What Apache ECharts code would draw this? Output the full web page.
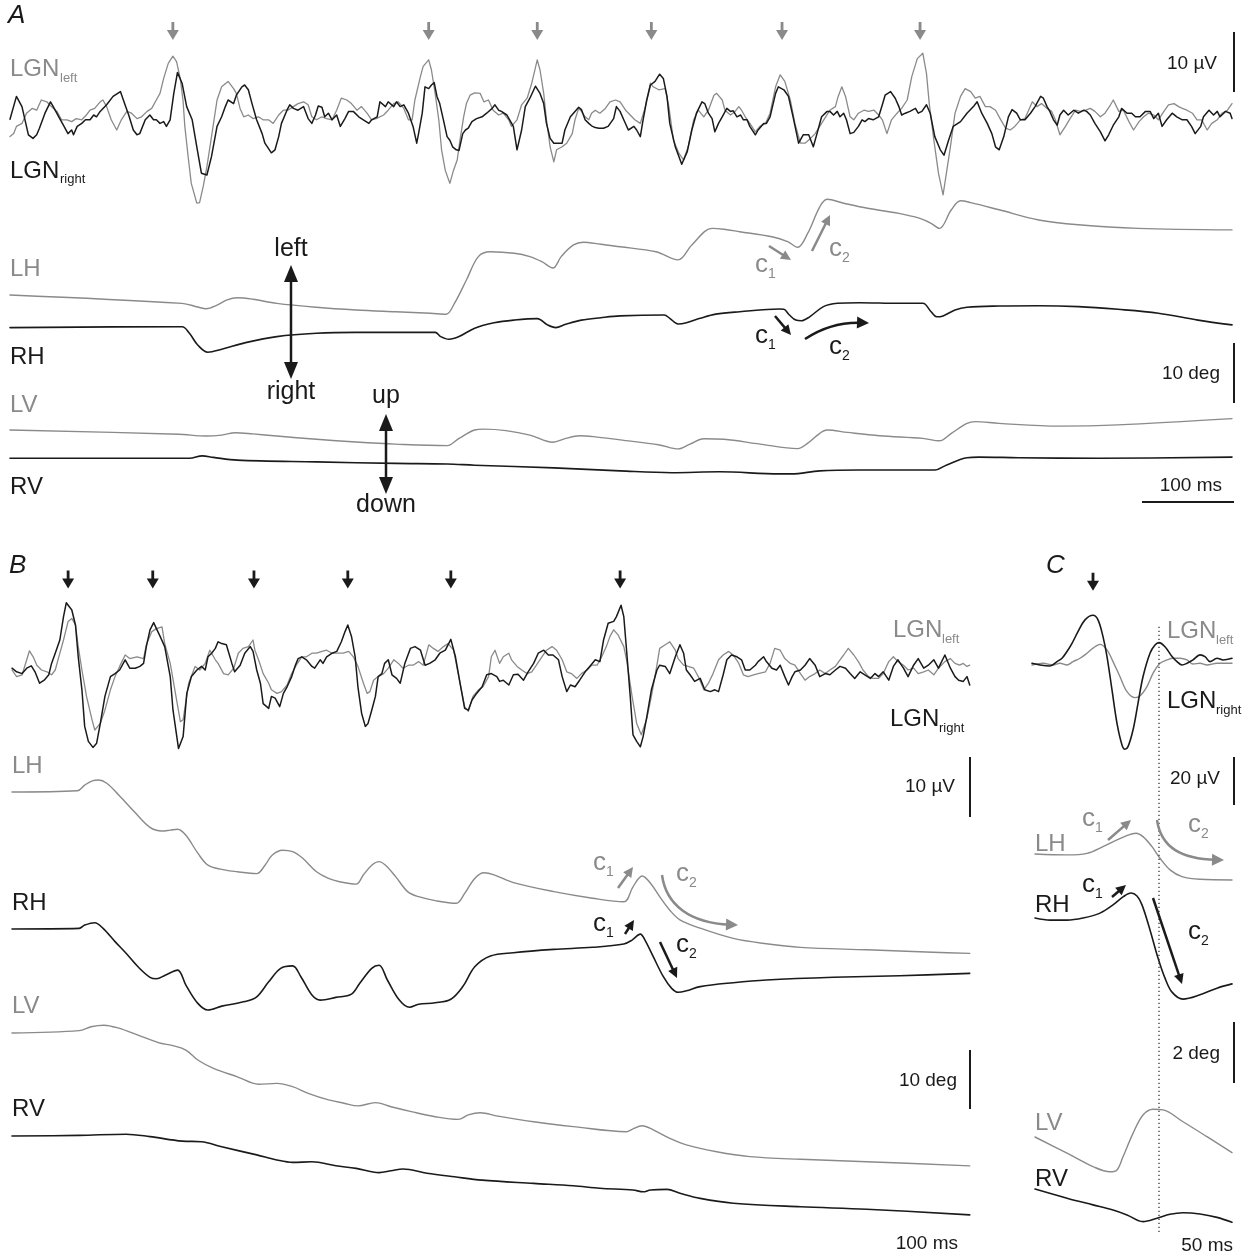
<!DOCTYPE html>
<html><head><meta charset="utf-8">
<script src="https://cdn.jsdelivr.net/npm/echarts@6/dist/echarts.min.js"></script>
<style>html,body{margin:0;padding:0;background:#fff}#c{width:1248px;height:1260px}</style>
</head><body><div id="c"></div>
<script>
// ===== DATA: [time (ms), value] pairs =====
// Panel A – LGN field potentials (µV)
const lgnA_right = [[0,-0.7],[7,3.1],[13,1.4],[20,-3.3],[25,-3.9],[29,-3.3],[32,-2.2],[34,-2.5],[38,0.3],[44,2.2],[47,1.4],[53,-0.3],[58,-1.7],[63,-3.1],[67,-2.5],[69,-3.3],[73,-1.9],[78,-1.4],[82,-0.8],[87,-0.8],[91,0],[94,-0.3],[98,0.6],[105,1.7],[112,3.1],[120,3.9],[125,1.7],[129,0],[134,-2.5],[138,-3.3],[141,-3.1],[147,-0.8],[152,0],[156,-0.8],[159,-0.8],[163,-1.4],[167,-1.1],[170,-1.9],[174,-0.8],[178,3.6],[182,7.1],[187,5.3],[192,1.4],[198,-0.8],[203,-5.3],[208,-9.7],[214,-10],[219,-6.9],[225,-1.9],[230,-0.3],[234,1.4],[237,2.5],[243,1.9],[246,3.3],[252,4.7],[255,5],[259,4.2],[263,1.9],[268,-0.8],[274,-3.1],[277,-4.7],[281,-5.6],[284,-6.3],[288,-5.8],[292,-3.6],[295,-1.4],[301,0.8],[304,1.7],[308,1.1],[313,0.8],[319,1.4],[324,-0.6],[328,-1.4],[332,0],[335,1.5],[339,1.3],[342,-0.3],[346,0.3],[350,-0.8],[355,0],[359,-1.9],[364,-0.6],[368,0.6],[373,0.6],[379,-0.3],[384,-0.8],[390,-1.4],[393,-0.8],[399,-0.3],[402,2.2],[408,1.4],[411,2.2],[417,1.4],[420,2.2],[424,1.4],[428,1.7],[433,0.3],[438,-1.9],[442,-4.7],[444,-3.1],[448,0.3],[451,4.7],[455,4.4],[458,5],[461,5.4],[464,3.1],[467,1.9],[471,-0.8],[475,-3.6],[478,-4.2],[481,-5.3],[485,-5.8],[488,-5.9],[492,-3.1],[495,-2.5],[498,-2.2],[502,-1.1],[507,-0.6],[513,-0.3],[518,0.3],[524,1.1],[527,1.7],[531,0.8],[534,0.6],[540,0],[543,-0.8],[547,-1.9],[551,-5.8],[556,-2.5],[560,1.4],[565,2.8],[571,4.8],[576,3.6],[580,1.9],[583,-1.4],[587,-3.9],[591,-4.7],[596,-4.7],[600,-4.7],[603,-2.5],[609,-0.3],[614,0.6],[618,1.3],[621,0.9],[625,-0.8],[629,-1.4],[632,-1.8],[636,-2.1],[640,-2.2],[645,-2.2],[650,-1.9],[656,-0.6],[659,1.4],[663,0.6],[667,-0.8],[672,-2.5],[678,-1.9],[681,-2.5],[685,-3.6],[688,-0.8],[692,2.5],[696,5],[701,5.6],[706,6.8],[710,6.1],[714,3.1],[717,-1.4],[723,-5.3],[730,-8.2],[736,-6.1],[741,-2.5],[746,0.3],[752,2.2],[755,1.9],[759,0.3],[763,-0.6],[766,-2.8],[770,-1.4],[774,-0.3],[779,1.1],[783,0.6],[786,0.7],[790,-0.3],[794,0],[797,-0.8],[801,-0.8],[804,-1.9],[810,-3.3],[813,-2.5],[819,-1.4],[822,-1.4],[826,-0.3],[832,3.6],[835,4.7],[841,4.2],[846,3.1],[851,-0.3],[857,-4.7],[862,-3.3],[868,-3.3],[873,-5.3],[877,-3.1],[882,-0.3],[888,0.6],[891,0.6],[895,0],[899,0.6],[902,-0.3],[906,0.3],[909,-0.8],[913,-3.1],[917,-2.9],[922,-1.9],[926,-0.8],[929,-1.1],[933,-0.6],[938,-0.8],[944,-0.3],[948,1.7],[951,3.3],[957,3.9],[962,2.8],[966,1.4],[969,0],[973,0.3],[978,0.6],[984,1.1],[987,0.3],[991,0.6],[996,1.7],[1000,0.3],[1005,-3.6],[1011,-5.8],[1015,-6.7],[1020,-4.2],[1025,-1.9],[1033,-1.1],[1040,0.3],[1047,1.4],[1051,2.2],[1056,0.3],[1062,-1.4],[1067,-3.1],[1071,-5.3],[1075,-5.8],[1080,-3.6],[1085,-0.3],[1089,0.9],[1094,0.3],[1098,-0.8],[1103,-0.8],[1109,0.3],[1114,1.4],[1120,3.1],[1123,2.8],[1127,1.4],[1130,0.6],[1134,-0.8],[1138,-1.7],[1141,0],[1145,0.8],[1150,0],[1156,0.8],[1161,0.3],[1167,0.8],[1170,0.6],[1174,0],[1179,-1.4],[1185,-2.8],[1190,-4.3],[1194,-3.3],[1199,-1.7],[1205,-0.3],[1208,1.1],[1214,0.3],[1219,0.3],[1223,-0.3],[1228,-0.3],[1234,0.6],[1239,0.6],[1243,-0.6],[1248,0.3],[1252,-1.9],[1257,-0.8],[1263,0.3],[1268,-0.3],[1274,-0.8],[1279,-0.8],[1284,-1.9],[1288,-3.1],[1294,-1.9],[1297,-0.3],[1303,0.8],[1308,0],[1312,0.6],[1315,-0.3],[1321,0.6],[1326,0.3],[1328,-0.6]];
const lgnA_left = [[0,-3.6],[4,-3.1],[7,-1.9],[13,-1.4],[18,0.3],[24,1.1],[29,0.8],[34,2.5],[40,2.2],[45,1.4],[51,0.6],[56,-0.8],[62,-0.8],[67,-1.1],[72,-0.6],[78,-0.8],[83,0],[87,0.8],[92,1.1],[98,2.2],[101,2.5],[105,1.4],[110,-0.8],[116,-2.5],[121,-0.8],[127,0.6],[132,0.3],[138,-0.6],[143,-0.3],[149,0.6],[154,1.1],[159,2.5],[163,3.6],[167,6.1],[172,8.6],[177,9.8],[181,8.9],[185,6.1],[188,2.5],[190,-1.9],[194,-7.5],[197,-11.4],[203,-14.7],[206,-14.6],[210,-11.9],[214,-8.6],[219,-3.6],[225,2.5],[230,4.7],[237,5.6],[243,4.4],[246,3.6],[250,1.1],[254,-0.3],[259,0],[264,-0.6],[270,-0.3],[275,-0.8],[281,-0.8],[286,-1.4],[292,0],[297,0.8],[302,0.8],[308,1.4],[313,1.9],[319,2.2],[324,1.7],[328,-0.3],[333,-0.8],[339,-0.3],[344,-0.6],[350,-0.8],[355,0.8],[360,2.8],[366,2.5],[371,1.9],[377,0.8],[382,1.4],[388,0.3],[393,-0.8],[398,-0.6],[406,0],[411,0.8],[417,1.9],[422,2.2],[428,1.1],[433,-0.8],[437,-0.8],[440,2.5],[446,6.4],[449,8.1],[455,9.2],[458,7.5],[462,3.6],[466,-0.8],[469,-5.8],[473,-9.2],[478,-11.4],[482,-9.2],[486,-7.5],[489,-4.2],[493,-0.3],[496,1.9],[500,3.3],[505,3.7],[511,3.6],[515,2.2],[520,2.5],[525,0.8],[531,0],[536,0.3],[542,-0.8],[545,-1.9],[551,-0.8],[556,1.7],[562,2.8],[567,5.3],[573,9.2],[576,7.5],[580,3.6],[583,-0.8],[587,-5.3],[591,-7.8],[594,-5.8],[600,-5.3],[605,-4.7],[611,-3.1],[614,-0.8],[618,1.1],[621,0.6],[625,-0.3],[629,-0.8],[632,0.3],[636,0.8],[641,0.3],[647,1.1],[652,2.2],[658,2.5],[663,2.2],[669,0.8],[674,0],[679,-0.8],[685,-1.4],[690,1.1],[696,5.3],[699,4.7],[705,4.2],[712,4.4],[716,1.4],[721,-4.2],[727,-6.4],[732,-7.5],[737,-5.3],[743,-0.8],[748,0.8],[754,-0.3],[759,0.8],[765,3.3],[768,3.6],[774,2.5],[777,0.8],[783,0],[788,0.6],[792,1.4],[795,0.8],[799,-0.3],[804,-1.4],[810,-2.8],[815,-1.9],[821,-1.4],[826,0.3],[832,4.7],[837,6.7],[842,5.6],[848,2.5],[853,-1.4],[859,-4.7],[864,-4.7],[870,-3.9],[875,-3.1],[880,-1.9],[891,0.8],[897,1.4],[900,3.1],[904,4.7],[908,3.1],[913,-0.3],[917,-0.8],[922,0.3],[928,0.8],[933,0.6],[939,0.8],[944,0],[948,-0.8],[953,-3.1],[958,-0.8],[964,0.3],[969,1.1],[975,2.5],[980,6.4],[986,9.4],[992,10.3],[996,6.9],[999,1.9],[1004,-4.2],[1009,-9.7],[1014,-13.3],[1017,-10.3],[1022,-5.3],[1027,0.3],[1033,3.1],[1038,4.4],[1044,3.9],[1049,2.8],[1054,3.1],[1060,1.4],[1065,1.4],[1071,0.8],[1076,-0.6],[1082,-2.2],[1087,-2.5],[1092,-1.9],[1098,-0.8],[1103,-0.6],[1107,0.8],[1111,2.2],[1116,1.4],[1121,1.9],[1127,1.1],[1132,0.6],[1136,-0.8],[1141,-3.3],[1147,-1.9],[1152,-0.6],[1158,0.8],[1163,0.6],[1169,0.8],[1174,1.1],[1179,0.6],[1185,-0.3],[1190,0.3],[1196,1.7],[1199,2.5],[1205,0.6],[1210,0.8],[1216,-1.1],[1221,-2.5],[1227,-1.1],[1232,-0.3],[1237,0.3],[1243,0],[1248,-0.8],[1254,0.6],[1259,1.7],[1265,1.9],[1270,1.4],[1274,1.1],[1279,0.8],[1285,0.3],[1290,-0.8],[1295,-0.8],[1301,-2.5],[1306,-1.4],[1312,-0.8],[1317,0.3],[1323,0.8],[1328,1.9]];
// Panel A – eye position (deg)
const lhA = [[0,0],[187,-1.4],[204,-2.0],[213,-2.3],[225,-1.7],[236,-0.8],[247,-0.45],[264,-0.7],[290,-1.4],[333,-2.05],[376,-2.5],[419,-2.8],[457,-3.05],[474,-3.2],[483,-1.4],[496,2.5],[509,6.4],[522,7.2],[548,6.95],[565,6.4],[578,5.55],[590,4.5],[599,6.4],[612,8.3],[623,8.8],[642,8.45],[663,8.05],[702,7.2],[726,5.85],[741,8.35],[763,11.1],[776,10.95],[793,10.55],[828,9.7],[845,8.9],[856,7.95],[867,10.3],[880,14.7],[888,15.95],[906,15.3],[932,14.45],[966,13.6],[988,12.8],[1001,11.95],[1010,11.1],[1023,14.2],[1033,15.7],[1044,15.4],[1075,14.2],[1118,12.5],[1161,11.7],[1226,11.1],[1328,10.85]];
const rhA = [[0,-0.1],[187,0.05],[195,-1.05],[204,-3],[215,-4.2],[230,-3.7],[256,-2.6],[290,-1.6],[333,-1.05],[376,-0.9],[462,-0.9],[468,-1.6],[477,-2.05],[488,-1.6],[505,-0.2],[526,0.7],[548,1.15],[573,1.4],[584,0.35],[593,-0.1],[604,0.45],[621,1.15],[642,1.55],[663,1.85],[711,2],[717,1.45],[726,0.5],[735,0.7],[750,1.45],[767,2.15],[793,2.55],[836,3],[841,2.95],[847,2],[854,1.15],[860,1.05],[869,1.7],[884,3.4],[899,3.95],[923,4.05],[966,3.95],[992,3.95],[1001,2.55],[1007,1.7],[1014,1.85],[1027,2.85],[1040,3.3],[1075,3.5],[1118,3.55],[1161,3.4],[1204,2.95],[1248,2.3],[1291,1.15],[1328,0.35]];
const lvA = [[0,0],[183,-0.7],[213,-1],[230,-0.85],[245,-0.45],[264,-0.65],[290,-1],[333,-1.55],[376,-2],[419,-2.35],[475,-2.6],[488,-1.4],[505,0],[515,0.15],[539,-0.1],[565,-0.85],[590,-2.05],[604,-1.4],[619,-0.95],[634,-1.1],[663,-1.65],[706,-2.5],[726,-3.15],[739,-2.35],[754,-1.45],[776,-1.55],[815,-2.35],[856,-3.1],[867,-2.2],[880,-0.55],[888,0],[910,-0.4],[945,-0.95],[992,-1.4],[1010,-1.8],[1023,-0.55],[1040,1.1],[1049,1.4],[1075,1.1],[1140,0.65],[1204,0.85],[1328,1.9]];
const rvA = [[0,-0.05],[195,-0.05],[209,0.35],[221,0.1],[247,-0.35],[333,-0.65],[419,-0.9],[475,-1],[505,-1.2],[591,-1.65],[663,-2.15],[719,-2.45],[771,-2.3],[836,-2.65],[849,-2.65],[880,-2.15],[923,-2],[1005,-2],[1018,-1.15],[1040,0.05],[1053,0.15],[1096,0.05],[1183,-0.05],[1328,0.15]];
const eventsA = [177, 455, 573, 697, 839, 989];

// Panel B – LGN (µV)
const lgnB_right = [[0,0.3],[5,-0.3],[11,-0.6],[16,0.3],[21,0.7],[25,-0.3],[30,-2.2],[35,-1.7],[40,-0.8],[43,1.1],[47,2.8],[52,5],[56,8.9],[59,11.2],[65,10],[69,7.5],[72,2.2],[76,-3.3],[79,-9.4],[83,-11.9],[88,-12.9],[92,-12.2],[96,-8.9],[101,-4.4],[107,-1.1],[112,-0.6],[117,0],[123,1.7],[128,0.3],[134,0.3],[139,0.6],[143,1.1],[146,3.9],[150,6.7],[154,7.9],[157,6.9],[161,5.6],[166,3.9],[172,-1.1],[175,-6.7],[181,-13.1],[186,-11.1],[190,-3.9],[195,-1.1],[201,0],[206,0.6],[210,0],[213,2.2],[217,2.8],[221,3.6],[224,4.7],[228,4.4],[233,4.2],[239,1.1],[242,-0.3],[248,0.8],[253,2.8],[259,3.9],[262,3.1],[266,0],[270,-2.2],[273,-5.6],[279,-6.4],[282,-4.4],[286,-4.7],[291,-6.1],[295,-3.9],[299,-2.8],[304,-1.1],[308,0.8],[311,1.9],[315,2.2],[320,1.7],[326,0.6],[329,0.3],[335,1.7],[338,1.1],[342,2.2],[348,2.8],[353,3.1],[358,4.7],[362,6.4],[365,7.5],[369,5.6],[373,2.2],[376,-2.8],[380,-7.2],[384,-9.4],[387,-8.9],[391,-6.7],[395,-4.4],[398,-1.1],[402,-0.6],[405,1.1],[409,1.7],[413,-0.8],[418,-1.4],[422,-2.2],[427,1.1],[433,3.6],[438,3.9],[444,3.3],[449,0.8],[454,1.1],[460,1.7],[465,2.8],[471,3.3],[477,5.1],[482,2.2],[487,-2.2],[492,-6.4],[496,-6.7],[500,-5],[505,-3.9],[511,-2.8],[516,-0.8],[521,-0.6],[527,-1.1],[530,-1.9],[534,-1.7],[540,-2.5],[545,-0.8],[550,-0.7],[556,-1.7],[561,-0.3],[567,1.1],[572,2.8],[578,3.3],[583,2.5],[588,2.5],[594,1.7],[598,-1.1],[603,-3.6],[607,-2.5],[612,-2.8],[617,-1.7],[623,-0.3],[628,0.6],[634,1.7],[639,1.4],[643,5],[648,7.8],[654,8.1],[657,8.9],[662,10.8],[665,8.9],[668,3.3],[672,-4.4],[675,-10.8],[679,-11.9],[683,-12.8],[686,-11.1],[690,-7.8],[695,-3.3],[701,0],[704,0.8],[710,0.6],[715,-0.6],[721,2.2],[726,4.2],[730,2.8],[733,0],[737,-0.8],[742,-1.9],[748,-1.4],[753,-3.3],[759,-3.6],[764,-3.3],[768,-3.6],[773,-0.8],[777,1.7],[782,2.5],[788,2.2],[793,1.7],[797,0],[802,0],[808,0.8],[811,1.4],[817,2.2],[820,1.4],[826,0.3],[831,0],[835,0.8],[840,-1.1],[844,-2.5],[848,-1.1],[851,-0.3],[857,0],[862,0.8],[867,1.9],[873,0.8],[878,-1.1],[884,-0.6],[889,-0.8],[895,0],[900,0.6],[906,0.3],[911,-0.6],[916,-1.4],[922,-0.3],[927,-0.8],[933,-1.4],[938,-0.6],[942,-1.1],[947,-0.3],[953,-1.7],[958,0.6],[963,1.7],[969,0.3],[974,-1.1],[980,0.8],[985,1.9],[991,0.3],[996,0.8],[1002,1.7],[1007,0.3],[1014,2.5],[1020,0.3],[1025,-1.1],[1029,-1.7],[1034,-1.9],[1038,-1.1],[1041,-2.5]];
const lgnB_left = [[0,0],[5,-1.1],[11,-0.8],[16,1.7],[19,3.2],[23,2.2],[27,0.8],[32,0],[38,-0.3],[43,-0.8],[47,0],[50,1.7],[56,5],[61,8.1],[65,8.6],[69,7.5],[72,3.9],[76,0],[81,-4.4],[87,-8.3],[90,-10],[96,-8.9],[101,-6.7],[107,-3.3],[112,-1.1],[117,0.6],[123,2.5],[128,1.9],[136,2.2],[143,1.9],[146,4.2],[152,6.4],[157,6.9],[163,7.2],[166,4.4],[172,1.1],[177,-3.3],[183,-8.6],[186,-8.3],[192,-2.2],[199,0.6],[204,0],[210,1.1],[215,3.3],[221,1.7],[224,1.1],[230,-0.6],[235,-0.8],[241,0.3],[246,2.8],[251,3.6],[257,3.9],[262,5],[264,3.3],[268,1.7],[273,-0.6],[279,-2.2],[282,-3.3],[288,-3.9],[293,-3.6],[299,-2.5],[304,-0.6],[309,0.8],[315,2.2],[320,2.2],[326,2.8],[331,2.8],[337,3.1],[342,3.3],[348,2.8],[353,2.8],[360,2.8],[366,3.1],[371,2.2],[376,0.6],[382,-2.2],[386,-3.9],[389,-3.6],[393,-1.7],[398,-1.1],[404,-0.6],[409,0.3],[415,1.7],[420,1.1],[425,0.3],[431,0.8],[436,0.8],[442,1.4],[447,0.8],[453,4.2],[458,3.6],[463,3.1],[469,3.9],[474,4.4],[476,4.7],[480,3.3],[485,-0.6],[492,-6.1],[496,-6.9],[501,-4.4],[507,-3.3],[512,-2.8],[518,-1.1],[521,2.2],[525,3.3],[530,1.1],[534,2.2],[540,2.8],[543,1.7],[549,0.6],[554,0],[560,-0.6],[565,-0.3],[570,0.8],[576,2.2],[581,3.3],[587,3.9],[592,3.3],[598,1.7],[603,-0.3],[608,-0.6],[614,-1.4],[619,-0.6],[625,0],[630,0.8],[636,0.8],[641,2.2],[646,3.9],[650,5.6],[654,6.7],[659,5.8],[665,3.9],[668,1.7],[674,-4.4],[679,-8.9],[684,-10.8],[690,-8.1],[695,-4.4],[701,0.8],[704,3.6],[710,4.2],[715,4.7],[721,3.3],[724,1.9],[730,0.8],[735,0.6],[741,0.3],[746,-1.1],[752,-3.3],[757,-2.2],[762,-0.6],[768,1.7],[773,2.5],[779,3.1],[784,2.5],[790,1.1],[795,-0.8],[800,-1.1],[806,-0.8],[811,-0.6],[819,-0.3],[824,1.1],[829,3.6],[835,3.3],[840,1.9],[846,1.1],[851,0.8],[857,-0.6],[862,-1.7],[867,-1.1],[873,-0.6],[878,0],[884,-0.6],[889,0],[895,0.6],[900,1.7],[904,2.5],[909,3.6],[915,2.5],[920,1.4],[925,0],[931,-1.1],[936,-1.4],[942,-1.4],[947,-0.6],[953,1.4],[958,2.2],[963,1.4],[969,0.8],[974,0],[980,0.3],[985,-0.6],[991,-0.3],[996,0],[1002,-0.8],[1007,0.3],[1014,1.4],[1020,1.9],[1025,1.1],[1030,0.8],[1034,1.1],[1038,0.6],[1041,0.8]];
// Panel B – eye position (deg)
const lhB = [[0,0],[71,0.2],[79,1.15],[88,1.9],[94,2],[103,1.45],[116,-0.5],[133,-3.3],[150,-5.9],[163,-6.5],[172,-6.35],[180,-6.2],[189,-7.2],[202,-10.2],[213,-12.2],[228,-12.9],[245,-13.3],[266,-13.6],[275,-12.2],[283,-10.5],[294,-9.7],[305,-9.95],[316,-11.05],[331,-13.3],[344,-14.4],[356,-14.95],[374,-15.35],[382,-13.8],[391,-12.2],[399,-11.6],[406,-12.2],[417,-14.1],[430,-16.6],[442,-17.45],[460,-18.1],[483,-18.55],[492,-16.9],[503,-14.4],[513,-13.45],[524,-13.8],[545,-15.1],[589,-16.6],[631,-17.7],[665,-18.3],[675,-15.8],[685,-14],[694,-15.2],[704,-17.45],[715,-19.7],[726,-21.3],[748,-22.7],[784,-24.4],[820,-25.3],[857,-25.9],[929,-26.3],[1001,-26.7],[1041,-26.9]];
const rhB = [[0,0],[73,0.1],[79,0.65],[90,1.05],[99,0.1],[112,-2.1],[124,-4.05],[137,-6.3],[150,-8.05],[157,-8.3],[167,-7.65],[180,-6.85],[189,-9.35],[202,-12.4],[213,-13.5],[228,-12.85],[253,-12.1],[266,-11.3],[279,-8.8],[292,-6.55],[305,-6.15],[314,-7.95],[326,-11],[335,-11.85],[352,-11.4],[369,-10.85],[378,-9.05],[391,-6.55],[399,-6.05],[408,-8.5],[421,-11.85],[432,-13.05],[442,-12.55],[460,-12.3],[477,-11.7],[490,-9.6],[503,-6.3],[520,-4.5],[545,-3.95],[589,-3.4],[631,-3.05],[665,-2.5],[674,-1.85],[683,-0.85],[688,-1.85],[697,-4.6],[708,-7.95],[717,-9.9],[724,-10.55],[733,-10.3],[748,-9.6],[784,-8.95],[820,-8.5],[893,-8.05],[965,-7.8],[1041,-7.4]];
const lvB = [[0,0],[73,0.4],[86,1.05],[100,1.3],[116,0.8],[137,-0.35],[159,-1.6],[176,-2.15],[189,-2.85],[202,-4.5],[219,-5.9],[245,-7.3],[268,-8.55],[288,-8.4],[305,-8.95],[322,-10.05],[344,-11.15],[361,-11.7],[376,-12.15],[395,-11.6],[412,-12.3],[434,-13.1],[460,-13.95],[485,-14.4],[496,-13.65],[509,-13.3],[528,-13.85],[567,-14.8],[610,-15.6],[668,-16.45],[674,-16.05],[685,-15.45],[697,-16.15],[715,-17.55],[733,-18.65],[766,-19.8],[802,-20.6],[857,-21.05],[929,-21.45],[1041,-22.15]];
const rvB = [[0,0],[73,0.1],[124,0.3],[150,-0.1],[185,-0.85],[206,-0.95],[228,-1.8],[266,-3.15],[288,-4],[305,-4.4],[326,-4.3],[352,-4.95],[374,-5.4],[399,-6.1],[412,-5.8],[425,-5.5],[451,-6.2],[481,-6.8],[511,-7.35],[567,-7.9],[610,-8.3],[639,-8.7],[675,-9],[686,-9.3],[694,-9],[712,-8.9],[726,-9.55],[748,-10.4],[784,-11.2],[857,-11.8],[929,-12.2],[1041,-13.15]];
const eventsB = [61, 153, 263, 365, 477, 661];

// Panel C – averaged (µV / deg)
const lgnC_right = [[0,0],[8,-0.7],[18,-1.1],[25,0.7],[30,2.1],[35,4.9],[40,8.3],[46,13.2],[53,18.1],[61,20],[66,18.1],[71,11.1],[75,2.8],[80,-11.1],[85,-25],[90,-34],[93,-35.8],[96,-34.7],[101,-27.8],[106,-16.7],[111,-5.6],[118,4.2],[123,7.6],[127,8.6],[133,6.9],[140,2.8],[145,0.7],[150,-0.7],[155,0],[161,1.4],[168,3.5],[173,2.8],[178,0.7],[185,2.1],[191,1.4],[200,2.1]];
const lgnC_left = [[0,-0.7],[11,0],[21,-0.7],[28,0],[35,-0.7],[41,0.7],[48,2.1],[55,4.2],[61,6.3],[68,7.9],[75,5.6],[81,0.7],[88,-5.6],[95,-11.8],[103,-14.3],[108,-13.6],[115,-9.7],[121,-4.2],[128,0],[135,1.4],[141,2.1],[148,2.1],[155,1.4],[161,-0.3],[168,0],[175,-0.7],[185,0],[200,0]];
const lhC = [[3,0],[35,-0.03],[55,0.02],[71,0.24],[85,0.46],[96,0.62],[104,0.68],[111,0.57],[120,0.24],[128,-0.14],[138,-0.52],[150,-0.74],[168,-0.83],[200,-0.85]];
const rhC = [[3,0],[18,-0.07],[35,-0.07],[51,0],[68,0.16],[81,0.43],[91,0.69],[99,0.82],[105,0.72],[110,0.43],[118,-0.39],[126,-1.31],[133,-1.97],[140,-2.43],[151,-2.66],[168,-2.52],[185,-2.3],[200,-2.16]];
const lvC = [[3,0],[35,-0.53],[61,-0.97],[78,-1.14],[85,-1.08],[91,-0.65],[101,0.12],[111,0.72],[121,0.91],[131,0.89],[151,0.5],[175,0.01],[200,-0.51]];
const rvC = [[3,0],[35,-0.3],[61,-0.52],[81,-0.69],[95,-0.85],[111,-1.07],[125,-0.96],[138,-0.83],[151,-0.78],[168,-0.82],[185,-0.93],[200,-1.09]];
const eventsC = [61];
const markerC = 127; // time of dotted reference line

// ===== LAYOUT =====
const K = '#1a1a1a', G = '#8a8a8a';
const FF = '"Liberation Sans", Arial, Helvetica, sans-serif';
const GRIDS = [
  {l:10,t:25,w:1222,h:210,x:[0,1328],y:[-20,15]},     //0 A LGN
  {l:10,t:175,w:1222,h:150,x:[0,1328],y:[-5,20]},     //1 A LH
  {l:10,t:267,w:1222,h:120,x:[0,1328],y:[-10,10]},    //2 A RH
  {l:10,t:400,w:1222,h:60,x:[0,1328],y:[-5,5]},       //3 A LV
  {l:10,t:428,w:1222,h:60,x:[0,1328],y:[-5,5]},       //4 A RV
  {l:12,t:562,w:958,h:216,x:[0,1041.3],y:[-18,18]},   //5 B LGN
  {l:12,t:762,w:958,h:210,x:[0,1041.3],y:[-30,5]},    //6 B LH
  {l:12,t:899,w:958,h:120,x:[0,1041.3],y:[-15,5]},    //7 B RH
  {l:12,t:1003,w:958,h:180,x:[0,1041.3],y:[-25,5]},   //8 B LV
  {l:12,t:1106,w:958,h:120,x:[0,1041.3],y:[-15,5]},   //9 B RV
  {l:1032,t:567.3,w:200,h:192,x:[0,200],y:[-40,40]},  //10 C LGN
  {l:1032,t:793,w:200,h:122,x:[0,200],y:[-2,2]},      //11 C LH
  {l:1032,t:857,w:200,h:183,x:[0,200],y:[-4,2]},      //12 C RH
  {l:1032,t:1076,w:200,h:122,x:[0,200],y:[-2,2]},     //13 C LV
  {l:1032,t:1158.5,w:200,h:91.5,x:[0,200],y:[-2,1]},  //14 C RV
  {l:1032,t:625,w:200,h:607,x:[0,200],y:[0,1]}        //15 C dotted line
];

function trace(gi, data, color, width, smooth){
  return {type:'line', xAxisIndex:gi, yAxisIndex:gi, data, showSymbol:false, symbol:'none',
    smooth: smooth || false, lineStyle:{color, width, join:'round', cap:'round'}, silent:true, z:color===K?3:2};
}
const ARROW = 'path://M4.6,0L7.4,0L7.4,8L12,8L6,18L0,8L4.6,8Z';
function events(gi, times, v, color){
  return {type:'scatter', xAxisIndex:gi, yAxisIndex:gi, data: times.map(t=>[t,v]),
    symbol: ARROW, symbolSize:[12,18], itemStyle:{color, opacity:1}, silent:true};
}

// ===== GRAPHIC ANNOTATIONS =====
function T(x,y,text,size,color,align,style){
  align = align||'left';
  return {type:'text', x, y, silent:true, z:10, style:{text, font:(style||'')+' '+size+'px '+FF, fill:color,
    align, verticalAlign:'middle', textAlign:align, textVerticalAlign:'middle'}};
}
function L(x1,y1,x2,y2,color,w){ return {type:'line', silent:true, z:10, shape:{x1,y1,x2,y2}, style:{stroke:color, lineWidth:w||2}}; }
function head(tx,ty,fx,fy,len,hw,color){
  const dx=tx-fx, dy=ty-fy, d=Math.hypot(dx,dy), ux=dx/d, uy=dy/d;
  const bx=tx-ux*len, by=ty-uy*len;
  return {type:'polygon', silent:true, z:10, shape:{points:[[tx,ty],[bx-uy*hw,by+ux*hw],[bx+uy*hw,by-ux*hw]]}, style:{fill:color}};
}
function arrow(x1,y1,x2,y2,color,len,hw,w){
  len=len||10; hw=hw||5;
  const dx=x2-x1, dy=y2-y1, d=Math.hypot(dx,dy);
  const ex=x2-dx/d*len*0.7, ey=y2-dy/d*len*0.7;
  return [L(x1,y1,ex,ey,color,w||2.5), head(x2,y2,x1,y1,len,hw,color)];
}
function darrow(x,y1,y2,color){
  return [L(x,y1+12,x,y2-12,color,2.5), head(x,y1,x,y2,17,7,color), head(x,y2,x,y1,17,7,color)];
}
function curve(x1,y1,c1x,c1y,c2x,c2y,x2,y2,color){
  const dx=x2-c2x, dy=y2-c2y, d=Math.hypot(dx,dy);
  const ex=x2-dx/d*8, ey=y2-dy/d*8;
  return [{type:'bezierCurve', silent:true, z:10, shape:{x1,y1,cpx1:c1x,cpy1:c1y,cpx2:c2x,cpy2:c2y,x2:ex,y2:ey},
    style:{stroke:color, lineWidth:2.5, fill:null}}, head(x2,y2,c2x,c2y,12,6,color)];
}
function csub(x,yb,n,color){ // "c" with subscript, yb = baseline
  return [T(x,yb-8,'c',26,color), T(x+13,yb+1,n,14,color)];
}

const graphics = [
  // Panel A
  T(8,16,'A',26,K,'left','italic'),
  T(10,69,'LGN',24,G), T(60,78,'left',13,G),
  T(10,171,'LGN',24,K), T(60,179,'right',13,K),
  T(10,269,'LH',24,G), T(10,357,'RH',24,K), T(10,405,'LV',24,G), T(10,487,'RV',24,K),
  T(291,249,'left',25,K,'center'), T(291,392,'right',25,K,'center'),
  T(386,396,'up',25,K,'center'), T(386,505,'down',25,K,'center'),
  ...darrow(291,265,379,K), ...darrow(386,414,494,K),
  T(1217,64,'10 µV',19,K,'right'), L(1234,32,1234,92,K,2),
  T(1220,374,'10 deg',19,K,'right'), L(1234,343,1234,403,K,2),
  T(1222,486,'100 ms',19,K,'right'), L(1142,502,1234,502,K,2),
  ...csub(755,273,'1',G), ...csub(829,257,'2',G), ...csub(755,344,'1',K), ...csub(829,355,'2',K),
  ...arrow(769,246,791,260,G), ...arrow(812,251,830,215,G), ...arrow(775,316,791,335,K),
  ...curve(805,339,820,329,840,322,869,323,K),
  // Panel B
  T(9,566,'B',26,K,'left','italic'),
  T(893,630,'LGN',24,G), T(942,639,'left',13,G),
  T(890,719,'LGN',24,K), T(939,728,'right',13,K),
  T(12,766,'LH',24,G), T(12,903,'RH',24,K), T(12,1006,'LV',24,G), T(12,1109,'RV',24,K),
  T(955,787,'10 µV',19,K,'right'), L(970,757,970,817,K,2),
  T(957,1081,'10 deg',19,K,'right'), L(970,1050,970,1109,K,2),
  T(958,1244,'100 ms',19,K,'right'),
  ...csub(593,871,'1',G), ...csub(676,882,'2',G), ...csub(593,932,'1',K), ...csub(676,953,'2',K),
  ...arrow(618,888,633,867,G), ...arrow(625,934,634,920,K), ...arrow(660,942,677,978,K),
  ...curve(662,875,666,905,690,923,738,925,G),
  // Panel C
  T(1046,566,'C',26,K,'left','italic'),
  T(1167,631,'LGN',24,G), T(1216,640,'left',13,G),
  T(1167,701,'LGN',24,K), T(1216,710,'right',13,K),
  T(1035,844,'LH',24,G), T(1035,905,'RH',24,K), T(1035,1123,'LV',24,G), T(1035,1179,'RV',24,K),
  T(1220,779,'20 µV',19,K,'right'), L(1234,757,1234,805,K,2),
  T(1220,1054,'2 deg',19,K,'right'), L(1234,1022,1234,1083,K,2),
  T(1233,1246,'50 ms',19,K,'right'),
  ...csub(1082,827,'1',G), ...csub(1188,833,'2',G), ...csub(1082,893,'1',K), ...csub(1188,940,'2',K),
  ...arrow(1108,840,1131,820,G), ...arrow(1112,897,1126,885,K), ...arrow(1153,898,1182,984,K),
  ...curve(1157,820,1161,848,1182,859,1224,860,G)
];

const ES = 0.35; // eye-trace smoothing
const series = [
  trace(0, lgnA_left, G, 1.3), trace(0, lgnA_right, K, 1.5), events(0, eventsA, 14, G),
  trace(1, lhA, G, 1.4, ES), trace(2, rhA, K, 1.6, ES), trace(3, lvA, G, 1.4, ES), trace(4, rvA, K, 1.6, ES),
  trace(5, lgnB_left, G, 1.3), trace(5, lgnB_right, K, 1.5), events(5, eventsB, 15.1, K),
  trace(6, lhB, G, 1.4, ES), trace(7, rhB, K, 1.6, ES), trace(8, lvB, G, 1.4, ES), trace(9, rvB, K, 1.6, ES),
  trace(10, lgnC_left, G, 1.4, 0.35), trace(10, lgnC_right, K, 1.6, 0.35), events(10, eventsC, 34, K),
  trace(11, lhC, G, 1.4, ES), trace(12, rhC, K, 1.6, ES), trace(13, lvC, G, 1.4, ES), trace(14, rvC, K, 1.6, ES),
  {type:'line', xAxisIndex:15, yAxisIndex:15, data:[[markerC,0],[markerC,1]], showSymbol:false, symbol:'none',
   lineStyle:{color:'#333', width:1.3, type:[1.3,2.7]}, silent:true}
];

const chart = echarts.init(document.getElementById('c'), null, {renderer:'canvas'});
chart.setOption({
  animation:false,
  backgroundColor:'#fff',
  grid: GRIDS.map(g=>({left:g.l, top:g.t, width:g.w, height:g.h, containLabel:false, show:false})),
  xAxis: GRIDS.map((g,i)=>({type:'value', gridIndex:i, min:g.x[0], max:g.x[1], show:false})),
  yAxis: GRIDS.map((g,i)=>({type:'value', gridIndex:i, min:g.y[0], max:g.y[1], show:false})),
  series,
  graphic: graphics
});
</script></body></html>
